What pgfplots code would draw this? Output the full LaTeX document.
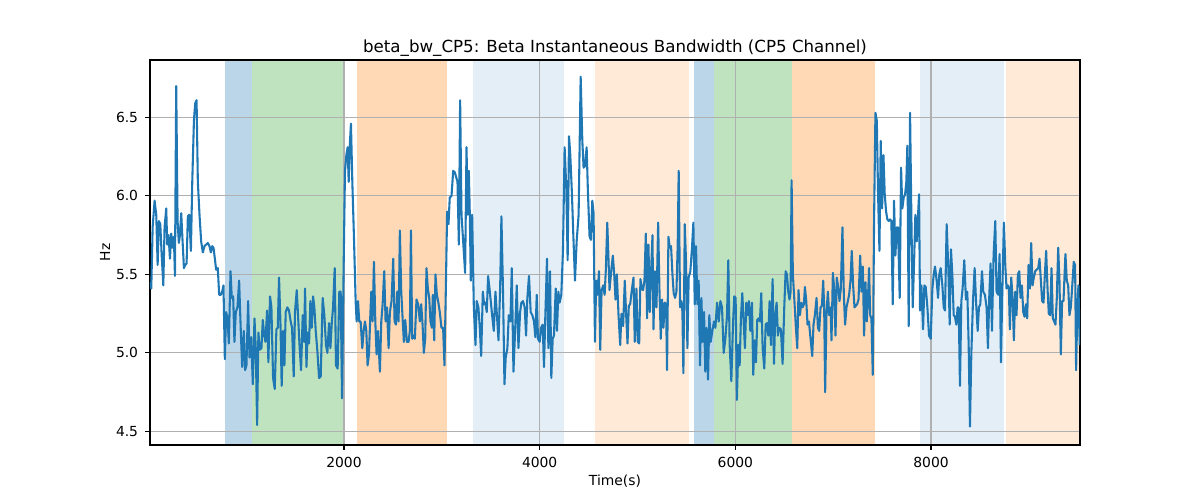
\documentclass[border=0pt]{standalone}
\usepackage{fontspec}
\setmainfont{DejaVu Sans}
\usepackage{pgfplots}
\pgfplotsset{compat=1.18}
\definecolor{tabblue}{RGB}{31,119,180}
\definecolor{taborange}{RGB}{255,127,14}
\definecolor{tabgreen}{RGB}{44,160,44}
\definecolor{gridgray}{RGB}{176,176,176}
\pgfplotsset{common/.style={
 at={(75pt,27.5pt)}, anchor=south west, scale only axis,
 width=465pt, height=192.5pt,
 xmin=17, xmax=9523, ymin=4.413, ymax=6.866}}
\begin{document}
\begin{tikzpicture}
\path[use as bounding box] (0,0) rectangle (600pt,250pt);
\begin{axis}[common, hide axis]
\addplot[draw=none, fill=tabblue, fill opacity=0.3, forget plot] coordinates {(786,6.866) (1061,6.866)} \closedcycle;
\addplot[draw=none, fill=tabgreen, fill opacity=0.3, forget plot] coordinates {(1061,6.866) (2000,6.866)} \closedcycle;
\addplot[draw=none, fill=taborange, fill opacity=0.3, forget plot] coordinates {(2133,6.866) (3051,6.866)} \closedcycle;
\addplot[draw=none, fill=tabblue, fill opacity=0.12, forget plot] coordinates {(3316,6.866) (4245,6.866)} \closedcycle;
\addplot[draw=none, fill=taborange, fill opacity=0.16, forget plot] coordinates {(4561,6.866) (5531,6.866)} \closedcycle;
\addplot[draw=none, fill=tabblue, fill opacity=0.3, forget plot] coordinates {(5582,6.866) (5786,6.866)} \closedcycle;
\addplot[draw=none, fill=tabgreen, fill opacity=0.3, forget plot] coordinates {(5786,6.866) (6582,6.866)} \closedcycle;
\addplot[draw=none, fill=taborange, fill opacity=0.3, forget plot] coordinates {(6582,6.866) (7429,6.866)} \closedcycle;
\addplot[draw=none, fill=tabblue, fill opacity=0.12, forget plot] coordinates {(7888,6.866) (8745,6.866)} \closedcycle;
\addplot[draw=none, fill=taborange, fill opacity=0.16, forget plot] coordinates {(8765,6.866) (9523,6.866)} \closedcycle;
\end{axis}
\begin{axis}[common,
 xtick={2000,4000,6000,8000},
 ytick={4.5,5,5.5,6,6.5},
 scaled x ticks=false,
 xticklabel style={/pgf/number format/1000 sep={}},
 yticklabel style={/pgf/number format/.cd, fixed, fixed zerofill, precision=1},
 /pgf/number format/assume math mode=true,
 ticklabel style={font=\fontsize{6.94}{8}\selectfont},
 tick align=outside, major tick length=2.43pt,
 xtick pos=bottom, ytick pos=left,
 tick style={black, line width=0.56pt},
 axis line style={line width=0.56pt},
 grid=major, grid style={gridgray, line width=0.56pt},
 title={beta\_bw\_CP5: Beta Instantaneous Bandwidth (CP5 Channel)},
 title style={at={(axis description cs:0.5,1.0364)}, anchor=center, yshift=-7pt, font=\fontsize{8.33}{10}\selectfont},
 xlabel={Time(s)},
 xlabel style={at={(axis description cs:0.5,-0.0935)}, anchor=center, font=\fontsize{6.94}{8}\selectfont},
 ylabel={Hz},
 ylabel style={at={(axis description cs:-0.0484,0.5)}, anchor=center, font=\fontsize{6.94}{8}\selectfont},
]
\addplot[tabblue, line width=1.04pt, line join=round] coordinates {
(17,5.45) (30,5.41) (44,5.80) (64,5.97) (81,5.88) (95,5.56) (108,5.84) (122,5.82) (136,5.63) (153,5.43) (166,5.80) (183,5.92) (193,5.69) (207,5.75) (221,5.60) (234,5.76) (248,5.67) (261,5.74) (272,5.49) (285,6.70) (299,5.84) (312,5.70) (323,5.75) (336,5.89) (350,5.71) (364,5.54) (377,5.56) (391,5.57) (404,5.87) (418,5.88) (435,5.65) (449,6.09) (466,6.48) (479,6.59) (493,6.61) (506,6.09) (523,5.88) (540,5.71) (557,5.64) (574,5.68) (591,5.69) (608,5.70) (625,5.68) (639,5.64) (653,5.68) (666,5.67) (680,5.60) (693,5.53) (710,5.54) (724,5.37) (741,5.37) (755,5.39) (768,5.43) (782,4.96) (795,5.26) (809,5.22) (823,5.06) (840,5.52) (853,5.35) (867,5.36) (880,5.07) (894,5.26) (911,5.29) (928,5.46) (945,5.14) (959,4.91) (976,5.14) (989,4.89) (1003,4.92) (1020,5.33) (1034,4.97) (1051,5.10) (1068,4.80) (1085,5.22) (1098,5.03) (1112,4.54) (1125,5.13) (1139,5.02) (1156,5.03) (1170,5.21) (1183,5.12) (1197,5.07) (1214,5.27) (1227,4.94) (1244,5.36) (1258,5.29) (1275,4.84) (1292,4.77) (1309,5.15) (1323,5.16) (1336,5.48) (1350,5.20) (1363,4.79) (1377,5.14) (1391,4.92) (1404,5.26) (1421,5.29) (1438,5.27) (1455,5.20) (1469,5.16) (1486,4.85) (1499,5.26) (1517,5.40) (1530,5.24) (1547,5.03)
(1561,4.89) (1578,5.24) (1592,5.07) (1602,5.41) (1616,4.91) (1629,5.13) (1643,5.06) (1656,5.33) (1670,5.16) (1684,5.36) (1697,5.29) (1711,5.14) (1728,5.01) (1745,4.84) (1762,4.85) (1782,5.35) (1799,5.24) (1816,5.05) (1830,5.00) (1847,5.19) (1861,5.03) (1874,5.18) (1888,5.29) (1905,5.54) (1918,4.92) (1935,4.90) (1952,5.39) (1966,5.39) (1980,4.71) (1997,5.58) (2010,6.16) (2024,6.26) (2037,6.31) (2048,6.09) (2058,6.31) (2071,6.46) (2085,6.09) (2102,5.73) (2119,5.33) (2129,5.20) (2143,5.33) (2156,5.20) (2170,5.20) (2187,5.03) (2201,5.14) (2214,5.20) (2228,5.14) (2241,4.92) (2255,4.99) (2269,5.24) (2279,5.39) (2292,5.20) (2306,5.58) (2320,5.20) (2333,4.99) (2347,5.14) (2367,4.88) (2381,5.20) (2395,5.31) (2411,5.52) (2425,5.20) (2439,5.29) (2456,5.03) (2469,5.26) (2486,5.33) (2503,5.60) (2517,5.20) (2531,5.18) (2544,5.39) (2558,5.20) (2571,5.78) (2585,5.39) (2599,5.22) (2612,5.07) (2626,5.21) (2643,5.07) (2660,5.07) (2673,5.14) (2684,5.78) (2697,5.09) (2711,5.11) (2724,5.09) (2741,5.34) (2758,5.31) (2775,5.20) (2789,5.31) (2803,5.18) (2816,5.00) (2830,5.09) (2843,5.54) (2857,5.41) (2871,5.35) (2884,5.20) (2898,5.16) (2908,5.37) (2922,5.08) (2935,5.50) (2949,5.37) (2962,5.33) (2979,5.26) (2996,5.16) (3013,5.16) (3027,4.92) (3041,5.41) (3054,5.90) (3068,5.82) (3081,5.99) (3099,6.00) (3116,6.16)
(3133,6.15) (3160,6.09) (3174,5.69) (3187,6.61) (3201,5.88) (3218,5.71) (3238,5.51) (3252,6.31) (3266,5.88) (3276,6.16) (3286,5.88) (3296,5.46) (3310,5.88) (3327,5.29) (3344,5.05) (3357,5.33) (3374,5.29) (3388,5.16) (3402,4.98) (3419,5.39) (3432,5.31) (3446,5.32) (3459,5.26) (3473,5.49) (3487,5.41) (3500,5.33) (3514,5.24) (3531,5.14) (3548,5.39) (3565,5.22) (3579,5.08) (3596,5.41) (3609,5.87) (3626,5.37) (3640,4.80) (3653,4.97) (3670,5.03) (3684,5.24) (3701,5.20) (3715,5.54) (3732,4.88) (3749,5.14) (3766,5.43) (3783,5.03) (3800,5.26) (3813,5.32) (3830,5.33) (3847,5.29) (3861,5.11) (3874,5.35) (3891,5.49) (3908,5.26) (3925,5.24) (3942,5.20) (3956,5.10) (3970,5.37) (3983,5.09) (4000,5.07) (4014,5.16) (4031,5.18) (4044,4.91) (4058,5.24) (4075,5.60) (4089,5.03) (4106,5.52) (4119,4.84) (4133,5.09) (4146,5.11) (4164,5.41) (4177,5.14) (4191,5.39) (4204,5.32) (4221,5.37) (4238,5.65) (4255,6.31) (4272,6.05) (4286,5.59) (4300,6.38) (4313,6.26) (4330,6.01) (4344,5.75) (4361,5.46) (4378,5.71) (4398,5.88) (4419,6.76) (4436,6.35) (4449,6.18) (4463,6.19) (4480,6.31) (4493,6.03) (4510,5.74) (4524,5.72) (4538,5.97) (4551,5.89) (4565,5.07) (4578,5.46) (4592,5.37) (4606,5.52) (4619,5.02) (4633,5.40) (4650,5.43) (4664,5.37) (4677,5.54) (4691,5.83)
(4714,5.40) (4731,5.52) (4748,5.62) (4762,5.50) (4775,5.34) (4789,5.50) (4806,5.24) (4823,5.05) (4836,5.25) (4853,5.17) (4870,5.46) (4884,5.24) (4898,5.06) (4911,5.30) (4925,5.31) (4942,5.40) (4959,5.48) (4972,5.07) (4989,5.41) (5003,5.07) (5017,5.06) (5030,5.47) (5044,5.41) (5057,5.40) (5071,5.46) (5085,5.76) (5098,5.22) (5112,5.69) (5126,5.26) (5139,5.52) (5153,5.75) (5163,5.15) (5177,5.52) (5194,5.29) (5211,5.83) (5224,5.41) (5238,5.09) (5251,5.34) (5265,5.16) (5279,5.32) (5292,5.31) (5302,4.89) (5316,5.74) (5330,5.67) (5343,5.68) (5357,5.50) (5370,5.38) (5384,5.35) (5398,5.39) (5411,5.69) (5421,6.16) (5435,5.29) (5449,5.33) (5459,5.26) (5469,4.87) (5483,5.82) (5496,5.58) (5510,5.03) (5523,5.48) (5540,5.52) (5557,5.67) (5571,5.83) (5585,5.31) (5598,5.68) (5612,5.31) (5625,5.46) (5639,4.92) (5653,5.35) (5666,5.07) (5680,5.26) (5693,4.88) (5707,5.16) (5721,4.83) (5734,5.24) (5748,5.07) (5765,5.14) (5782,5.20) (5796,5.16) (5813,5.32) (5830,5.20) (5847,5.33) (5864,5.29) (5881,5.00) (5898,5.09) (5915,5.24) (5928,5.59) (5942,5.05) (5959,4.82) (5976,5.18) (5989,5.36) (6003,5.35) (6016,4.70) (6030,5.05) (6044,4.92) (6057,5.22) (6071,5.38) (6085,5.20) (6098,5.03) (6112,5.32) (6125,5.24) (6139,5.33) (6153,5.14) (6170,5.32) (6183,4.86) (6197,5.08) (6211,4.94) (6224,5.21) (6238,5.22) (6251,5.20) (6265,5.38) (6279,5.03)
(6296,4.90) (6310,5.18) (6323,5.19) (6337,5.11) (6350,5.33) (6364,5.05) (6381,5.47) (6395,4.93) (6408,5.24) (6422,5.32) (6435,5.11) (6449,5.16) (6466,5.15) (6483,4.93) (6500,5.29) (6514,5.52) (6527,5.50) (6541,5.39) (6554,5.34) (6565,5.39) (6575,6.10) (6588,5.50) (6602,5.35) (6619,5.16) (6633,5.03) (6646,5.40) (6660,5.24) (6674,5.32) (6687,5.29) (6701,5.31) (6711,5.42) (6725,5.33) (6738,5.18) (6752,5.20) (6769,5.09) (6786,4.98) (6799,5.18) (6813,5.24) (6830,5.35) (6844,5.16) (6857,5.14) (6871,5.29) (6885,5.30) (6898,5.46) (6908,5.29) (6918,4.75) (6932,5.26) (6946,5.39) (6959,5.24) (6973,5.29) (6983,5.08) (6997,5.51) (7010,5.41) (7024,5.11) (7037,5.48) (7051,5.42) (7065,5.33) (7078,5.41) (7095,5.80) (7109,5.37) (7122,5.18) (7136,5.29) (7150,5.33) (7163,5.37) (7177,5.46) (7190,5.65) (7204,5.43) (7218,5.29) (7231,5.30) (7245,5.31) (7259,5.34) (7276,5.62) (7289,5.39) (7303,5.55) (7316,5.11) (7330,5.45) (7344,5.20) (7357,5.37) (7367,5.54) (7378,5.24) (7391,5.22) (7405,4.86) (7418,5.84) (7432,6.53) (7446,6.48) (7459,6.01) (7473,5.65) (7486,6.35) (7500,5.92) (7514,6.26) (7527,6.01) (7541,5.90) (7554,5.85) (7568,5.84) (7582,5.85) (7595,5.84) (7609,5.31) (7622,5.97) (7636,5.62) (7650,5.80) (7663,5.80) (7680,5.35) (7694,6.18) (7707,5.92) (7721,5.99) (7735,6.01) (7748,6.09) (7758,6.32) (7772,5.17) (7786,6.53) (7799,5.88) (7813,5.29) (7827,5.58) (7840,5.88) (7854,5.71)
(7878,6.01) (7888,5.27) (7902,5.43) (7919,5.15) (7932,5.43) (7946,5.42) (7963,5.29) (7980,5.11) (7997,5.09) (8014,5.41) (8028,5.50) (8041,5.55) (8058,5.46) (8072,5.35) (8085,5.50) (8099,5.54) (8116,5.43) (8130,5.29) (8143,5.27) (8160,5.82) (8177,5.54) (8191,5.18) (8204,5.66) (8218,5.50) (8232,5.24) (8245,5.23) (8259,5.18) (8272,5.29) (8283,5.29) (8296,4.79) (8310,5.33) (8323,5.41) (8340,5.59) (8357,5.34) (8371,5.39) (8385,5.05) (8398,4.53) (8412,4.99) (8429,5.33) (8446,5.54) (8460,5.33) (8477,5.14) (8490,5.29) (8504,5.31) (8521,5.52) (8534,5.39) (8551,5.37) (8568,5.29) (8582,5.03) (8596,5.37) (8609,5.57) (8623,5.14) (8640,5.63) (8657,5.84) (8670,5.39) (8687,5.37) (8701,5.63) (8715,4.94) (8728,5.37) (8745,5.83) (8759,5.56) (8772,5.41) (8786,5.43) (8796,5.41) (8806,5.15) (8820,5.48) (8834,5.35) (8847,5.08) (8861,5.39) (8874,5.24) (8888,5.50) (8902,5.52) (8915,5.35) (8929,5.43) (8943,5.26) (8956,5.23) (8970,5.31) (8983,5.22) (8997,5.56) (9011,5.41) (9024,5.70) (9038,5.43) (9051,5.48) (9065,5.52) (9079,5.53) (9096,5.54) (9109,5.60) (9123,5.46) (9136,5.33) (9150,5.32) (9164,5.50) (9177,5.65) (9191,5.41) (9204,5.25) (9218,5.24) (9232,5.54) (9245,5.22) (9259,5.20) (9272,5.18) (9286,5.35) (9300,5.67) (9313,5.46) (9327,4.99) (9340,5.33) (9354,5.33) (9374,5.63) (9388,5.46) (9402,5.43) (9415,5.24) (9429,5.29) (9442,5.41) (9459,5.58) (9473,5.56) (9483,4.89) (9497,5.31) (9507,5.43) (9520,5.05)
};
\end{axis}
\end{tikzpicture}
\end{document}
